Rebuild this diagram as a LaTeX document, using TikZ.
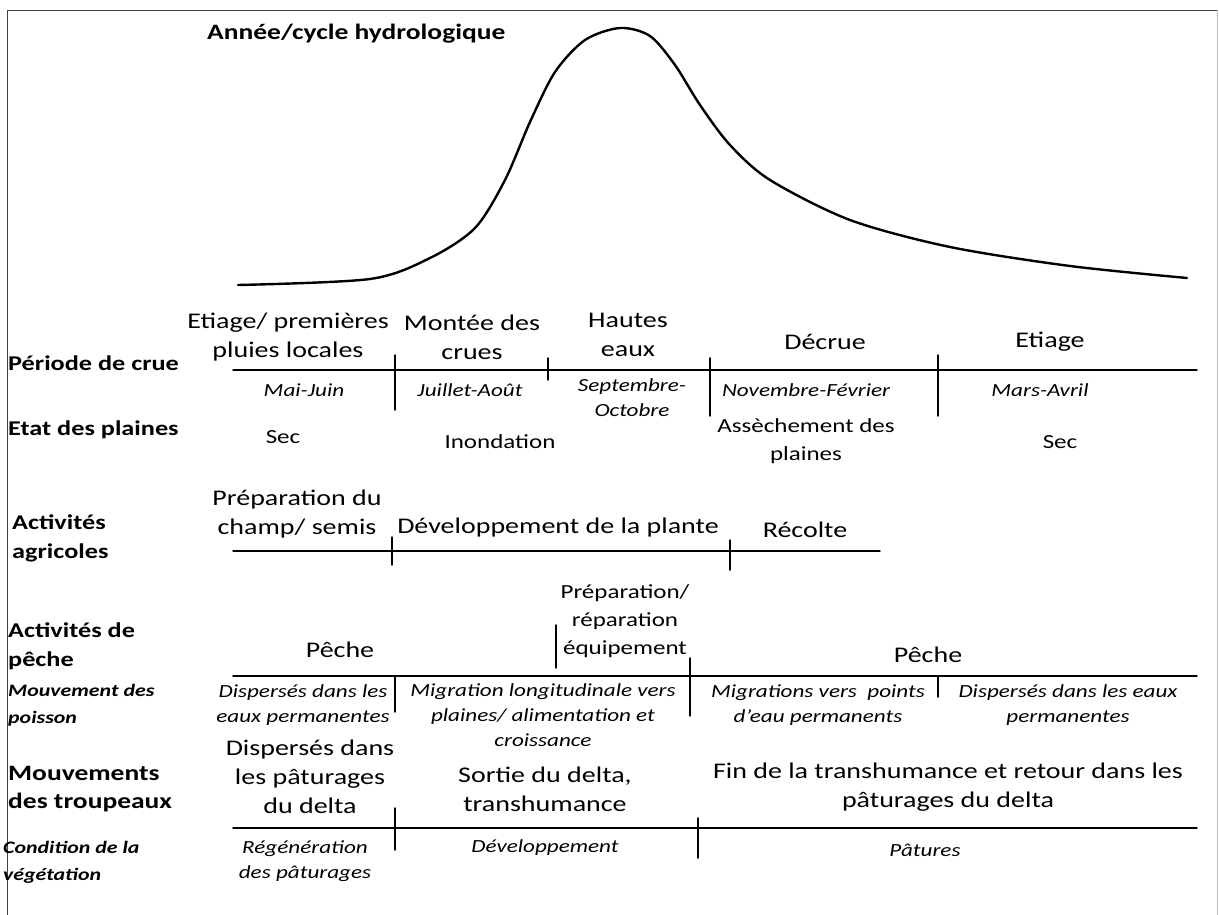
\documentclass[tikz,border=0pt]{standalone}
\usepackage{fontspec}
\setmainfont{Carlito}[FakeStretch=1.25]
\begin{document}
\begin{tikzpicture}[x=1pt,y=-1pt,line join=round,line cap=round]
	\tikzset{lab/.style={anchor=west,align=left,inner sep=0pt,font=\bfseries\fontsize{21}{29}\selectfont},
		sublab/.style={anchor=west,align=left,inner sep=0pt,font=\bfseries\itshape\fontsize{17.5}{27}\selectfont},
		big/.style={align=center,inner sep=0pt,font=\fontsize{22.4}{29}\selectfont},
		mid/.style={align=center,inner sep=0pt,font=\fontsize{20}{28}\selectfont},
		it/.style={align=center,inner sep=0pt,font=\itshape\fontsize{18.5}{25}\selectfont},
		rule/.style={line width=1.4pt}}
	\useasboundingbox (0,0) rectangle (1219,915);
	\draw[line width=1pt,black!75] (7,915)--(7,11)--(1217,11);
	\draw[line width=1pt,black!25] (1217,11)--(1217,915);
	\node[anchor=west,inner sep=0pt,font=\bfseries\fontsize{22}{26}\selectfont] (titre) at (207,34) {Année/cycle hydrologique};
	\draw[line width=2.4pt] plot[smooth,tension=0.5] coordinates {(238,285)(370,279)(430,258)(475,228)(505,180)(530,122)(555,72)(585,40)(620,28)(650,36)(675,65)(700,105)(730,145)(770,180)(850,220)(950,247)(1070,266)(1187,278)};
	% periode de crue / etat des plaines
	\node[lab] (crue) at (8,363) {Période de crue};
	\node[lab] (plaines) at (8,430) {Etat des plaines};
	\node[big] (etiage) at (288,337) {Etiage/ premières\\pluies locales};
	\node[big] (montee) at (472,337) {Montée des\\crues};
	\node[big] (hautes) at (628,335) {Hautes\\eaux};
	\node[big] (decrue) at (825,342) {Décrue};
	\node[big] (etiagefin) at (1050,342) {Etiage};
	\node[it] (mai) at (304,390) {Mai-Juin};
	\node[it] (juillet) at (470,390) {Juillet-Août};
	\node[it] (sept) at (632,398) {Septembre-\\Octobre};
	\node[it] (nov) at (806,390) {Novembre-Février};
	\node[it] (mars) at (1040,390) {Mars-Avril};
	\node[mid] (sec) at (283,437) {Sec};
	\node[mid] (inond) at (500,442) {Inondation};
	\node[mid] (assech) at (806,441) {Assèchement des\\plaines};
	\node[mid] (secfin) at (1060,442) {Sec};
	\draw[rule] (233,370)--(1197,370) (395,355)--(395,410) (548,358)--(548,380) (710,358)--(710,416) (938,355)--(938,416);
	% activites agricoles
	\node[lab] (agri) at (12,538) {Activités\\agricoles};
	\node[big] (prep) at (297,514) {Préparation du\\champ/ semis};
	\node[big] (dev) at (558,528) {Développement de la plante};
	\node[big] (recolte) at (805,530) {Récolte};
	\draw[rule] (233,551)--(880,551) (392,537)--(392,565) (730,540)--(730,570);
	% peche / poisson
	\node[lab] (peche) at (8,646) {Activités de\\pêche};
	\node[sublab] (poisson) at (8,705) {Mouvement des\\poisson};
	\node[mid] (equip) at (625,621) {Préparation/\\réparation\\équipement};
	\node[big] (pechea) at (340,650) {Pêche};
	\node[big] (pecheb) at (928,655) {Pêche};
	\node[it] (disp) at (303,705) {Dispersés dans les\\eaux permanentes};
	\node[it] (migr) at (543,715) {Migration longitudinale vers\\plaines/ alimentation et\\croissance};
	\node[it] (migrs) at (818,705) {Migrations vers\ \ points\\d’eau permanents};
	\node[it] (dispfin) at (1068,705) {Dispersés dans les eaux\\permanentes};
	\draw[rule] (233,676)--(1197,676) (556,625)--(556,668) (690,658)--(690,716) (395,676)--(395,712) (938,676)--(938,697);
	% troupeaux / vegetation
	\node[lab,font=\bfseries\fontsize{22}{28}\selectfont] (troup) at (8,789) {Mouvements\\des troupeaux};
	\node[sublab] (veget) at (3,862) {Condition de la\\végétation};
	\node[big] (dispt) at (310,777) {Dispersés dans\\les pâturages\\du delta};
	\node[big] (sortie) at (545,789) {Sortie du delta,\\transhumance};
	\node[big] (retour) at (948,787) {Fin de la transhumance et retour dans les\\pâturages du delta};
	\node[it] (regen) at (305,861) {Régénération\\des pâturages};
	\node[it] (devt) at (545,848) {Développement};
	\node[it] (patures) at (925,850) {Pâtures};
	\draw[rule] (233,828)--(1197,828) (395,808)--(395,850) (698,818)--(698,858);
\end{tikzpicture}
\end{document}
